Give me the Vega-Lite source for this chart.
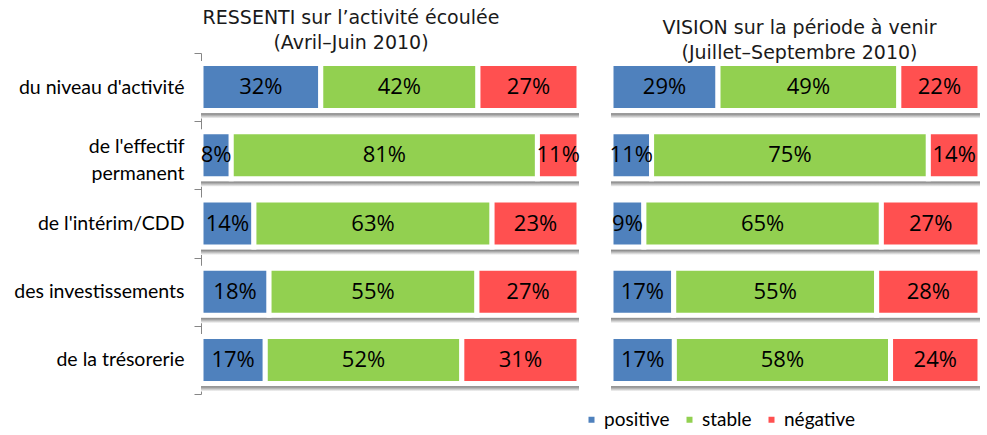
{
  "$schema": "https://vega.github.io/schema/vega-lite/v6.json",
  "padding": {"left": 0, "top": 9, "right": 0, "bottom": 0},
  "background": "white",
  "datasets": {
    "d": [
      {"panel": "ressenti", "cat": "du niveau d'activité\u00a0", "type": "positive", "value": 0.32},
      {"panel": "ressenti", "cat": "du niveau d'activité\u00a0", "type": "stable", "value": 0.42},
      {"panel": "ressenti", "cat": "du niveau d'activité\u00a0", "type": "négative", "value": 0.27},
      {"panel": "ressenti", "cat": "de l'effectif permanent", "type": "positive", "value": 0.08},
      {"panel": "ressenti", "cat": "de l'effectif permanent", "type": "stable", "value": 0.81},
      {"panel": "ressenti", "cat": "de l'effectif permanent", "type": "négative", "value": 0.11},
      {"panel": "ressenti", "cat": "de l'intérim/CDD", "type": "positive", "value": 0.14},
      {"panel": "ressenti", "cat": "de l'intérim/CDD", "type": "stable", "value": 0.63},
      {"panel": "ressenti", "cat": "de l'intérim/CDD", "type": "négative", "value": 0.23},
      {"panel": "ressenti", "cat": "des investissements", "type": "positive", "value": 0.18},
      {"panel": "ressenti", "cat": "des investissements", "type": "stable", "value": 0.55},
      {"panel": "ressenti", "cat": "des investissements", "type": "négative", "value": 0.27},
      {"panel": "ressenti", "cat": "de la trésorerie", "type": "positive", "value": 0.17},
      {"panel": "ressenti", "cat": "de la trésorerie", "type": "stable", "value": 0.52},
      {"panel": "ressenti", "cat": "de la trésorerie", "type": "négative", "value": 0.31},
      {"panel": "vision", "cat": "du niveau d'activité\u00a0", "type": "positive", "value": 0.29},
      {"panel": "vision", "cat": "du niveau d'activité\u00a0", "type": "stable", "value": 0.49},
      {"panel": "vision", "cat": "du niveau d'activité\u00a0", "type": "négative", "value": 0.22},
      {"panel": "vision", "cat": "de l'effectif permanent", "type": "positive", "value": 0.11},
      {"panel": "vision", "cat": "de l'effectif permanent", "type": "stable", "value": 0.75},
      {"panel": "vision", "cat": "de l'effectif permanent", "type": "négative", "value": 0.14},
      {"panel": "vision", "cat": "de l'intérim/CDD", "type": "positive", "value": 0.09},
      {"panel": "vision", "cat": "de l'intérim/CDD", "type": "stable", "value": 0.65},
      {"panel": "vision", "cat": "de l'intérim/CDD", "type": "négative", "value": 0.27},
      {"panel": "vision", "cat": "des investissements", "type": "positive", "value": 0.17},
      {"panel": "vision", "cat": "des investissements", "type": "stable", "value": 0.55},
      {"panel": "vision", "cat": "des investissements", "type": "négative", "value": 0.28},
      {"panel": "vision", "cat": "de la trésorerie", "type": "positive", "value": 0.17},
      {"panel": "vision", "cat": "de la trésorerie", "type": "stable", "value": 0.58},
      {"panel": "vision", "cat": "de la trésorerie", "type": "négative", "value": 0.24}
    ]
  },
  "spacing": 26,
  "hconcat": [
    {
      "data": {"name": "d"},
      "transform": [
        {"filter": "datum.panel == 'ressenti'"},
        {"stack": "value", "groupby": ["cat"], "offset": "normalize", "as": ["v0", "v1"]}
      ],
      "width": 378,
      "height": 341,
      "title": {
        "text": ["RESSENTI sur l’activité écoulée", "(Avril–Juin 2010)"],
        "dx": -39
      },
      "encoding": {
        "y": {
          "field": "cat", "type": "nominal", "sort": null,
          "scale": {"paddingInner": 0, "paddingOuter": 0},
          "axis": {
            "title": null,
            "domainColor": "#868686",
            "tickColor": "#868686",
            "tickSize": 7,
            "tickBand": "extent",
            "labelPadding": 10,
            "labelFont": "Lato",
            "labelFontSize": 19.5,
            "labelColor": "#000000",
            "labelLineHeight": 27,
            "labelLimit": 300,
            "labelOffset": {"condition": {"test": "indexof(datum.label, 'permanent') > 0", "value": -9}, "value": 0},
            "minExtent": 200.5,
            "maxExtent": 200.5,
            "labelExpr": "indexof(datum.label, 'permanent') > 0 ? [\"de l'effectif\", 'permanent'] : datum.label"
          }
        }
      },
      "layer": [
        {
          "mark": {"type": "bar", "size": 7, "yOffset": 28,
            "color": {"gradient": "linear", "x1": 0, "y1": 0, "x2": 0, "y2": 1,
              "stops": [{"offset": 0, "color": "#c8c8c8"}, {"offset": 0.35, "color": "#8e8e8e"}, {"offset": 1, "color": "#ffffff"}]}},
          "encoding": {
            "x": {"aggregate": "min", "field": "v0", "type": "quantitative", "scale": {"domain": [0, 1], "nice": false}, "axis": null},
            "x2": {"aggregate": "max", "field": "v1"}
          }
        },
        {
          "mark": {"type": "bar", "size": 47, "stroke": "white", "strokeWidth": 5},
          "encoding": {
            "x": {"field": "v0", "type": "quantitative", "scale": {"domain": [0, 1], "nice": false}, "axis": null},
            "x2": {"field": "v1"},
            "color": {
              "field": "type", "type": "nominal",
              "scale": {"domain": ["positive", "stable", "négative"], "range": ["#4F81BD", "#92D050", "#FF5050"]},
              "legend": {
                "title": null, "orient": "none", "legendX": 381, "legendY": 357, "direction": "horizontal",
                "symbolType": "square", "symbolSize": 36, "symbolStrokeWidth": 0,
                "labelFont": "Lato", "labelFontSize": 19, "labelColor": "#000000", "labelOffset": 3, "columnPadding": 10
              }
            }
          }
        },
        {
          "transform": [{"fold": ["v0", "v1"], "as": ["edge", "pos"]}],
          "mark": {"type": "text", "font": "Open Sans", "fontSize": 22, "color": "#000000"},
          "encoding": {
            "x": {"aggregate": "mean", "field": "pos", "type": "quantitative"},
            "detail": {"field": "type"},
            "text": {"field": "value", "type": "quantitative", "format": ".0%"}
          }
        }
      ]
    },
    {
      "data": {"name": "d"},
      "transform": [
        {"filter": "datum.panel == 'vision'"},
        {"stack": "value", "groupby": ["cat"], "offset": "normalize", "as": ["v0", "v1"]}
      ],
      "width": 369,
      "height": 341,
      "title": {
        "text": ["VISION sur la période à venir", "(Juillet–Septembre 2010)"],
        "dx": 4
      },
      "encoding": {
        "y": {
          "field": "cat", "type": "nominal", "sort": null,
          "scale": {"paddingInner": 0, "paddingOuter": 0},
          "axis": null
        }
      },
      "layer": [
        {
          "mark": {"type": "bar", "size": 7, "yOffset": 28,
            "color": {"gradient": "linear", "x1": 0, "y1": 0, "x2": 0, "y2": 1,
              "stops": [{"offset": 0, "color": "#c8c8c8"}, {"offset": 0.35, "color": "#8e8e8e"}, {"offset": 1, "color": "#ffffff"}]}},
          "encoding": {
            "x": {"aggregate": "min", "field": "v0", "type": "quantitative", "scale": {"domain": [0, 1], "nice": false}, "axis": null},
            "x2": {"aggregate": "max", "field": "v1"}
          }
        },
        {
          "mark": {"type": "bar", "size": 47, "stroke": "white", "strokeWidth": 5},
          "encoding": {
            "x": {"field": "v0", "type": "quantitative", "scale": {"domain": [0, 1], "nice": false}, "axis": null},
            "x2": {"field": "v1"},
            "color": {"field": "type", "type": "nominal"}
          }
        },
        {
          "transform": [{"fold": ["v0", "v1"], "as": ["edge", "pos"]}],
          "mark": {"type": "text", "font": "Open Sans", "fontSize": 22, "color": "#000000"},
          "encoding": {
            "x": {"aggregate": "mean", "field": "pos", "type": "quantitative"},
            "detail": {"field": "type"},
            "text": {"field": "value", "type": "quantitative", "format": ".0%"}
          }
        }
      ]
    }
  ],
  "config": {
    "view": {"stroke": null},
    "title": {"font": "DejaVu Sans", "fontSize": 19, "fontWeight": "normal", "color": "#1a1a1a", "lineHeight": 25, "anchor": "middle", "offset": -10}
  }
}
